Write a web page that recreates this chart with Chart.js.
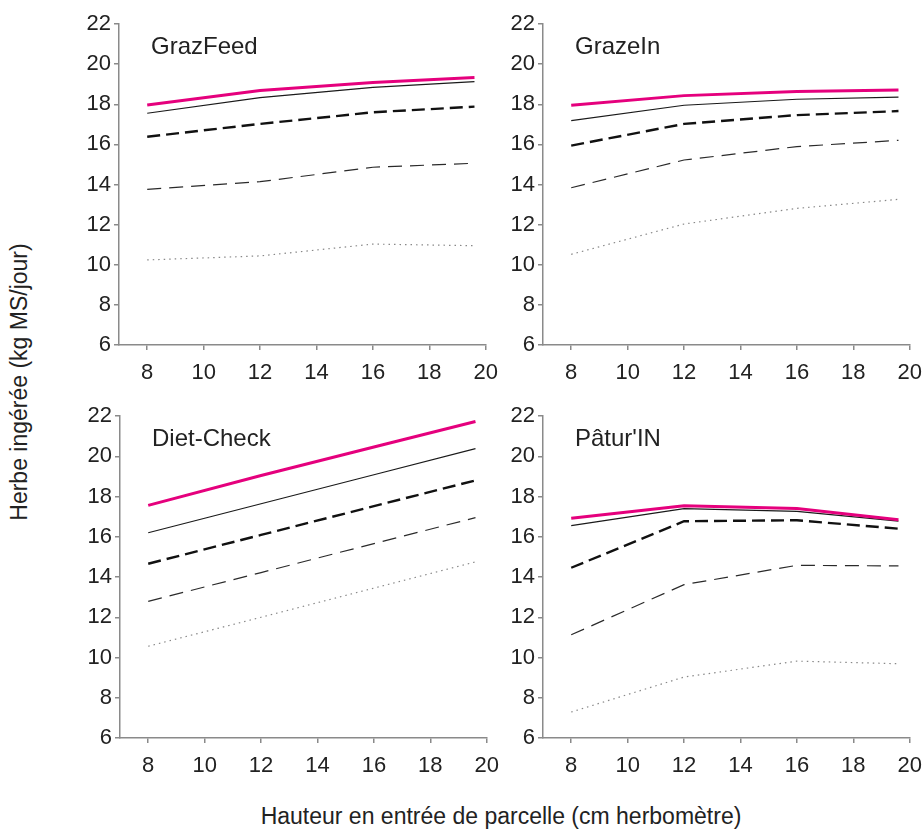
<!DOCTYPE html>
<html><head><meta charset="utf-8">
<script src="https://cdn.jsdelivr.net/npm/chart.js@4/dist/chart.umd.min.js"></script>
<style>
html,body{margin:0;padding:0;background:#fff;overflow:hidden;width:923px;height:830px;position:relative;}
canvas{position:absolute;}
.axt{position:absolute;font-family:"Liberation Sans",Arial,sans-serif;font-size:23px;line-height:23px;color:#222;white-space:nowrap;}
#xt{left:501px;top:805px;transform:translateX(-50%);}
#yt{left:19px;top:382px;transform:translate(-50%,-50%) rotate(-90deg);}
</style></head><body>
<div id="xt" class="axt">Hauteur en entrée de parcelle (cm herbomètre)</div>
<div id="yt" class="axt">Herbe ingérée (kg MS/jour)</div>
<canvas id="c0"></canvas>
<canvas id="c1"></canvas>
<canvas id="c2"></canvas>
<canvas id="c3"></canvas>
<script>
// ---- data ----
const xValues = [8, 12, 16, 19.6];
const xTicks = [8, 10, 12, 14, 16, 18, 20];
const yTicks = [6, 8, 10, 12, 14, 16, 18, 20, 22];
const panelTitles = ['GrazFeed', 'GrazeIn', 'Diet-Check', "Pâtur'IN"];

const grazFeedMagenta   = [17.96, 18.68, 19.09, 19.33];
const grazFeedSolid     = [17.55, 18.33, 18.84, 19.13];
const grazFeedThickDash = [16.38, 17.02, 17.60, 17.88];
const grazFeedThinDash  = [13.76, 14.14, 14.86, 15.06];
const grazFeedDotted    = [10.24, 10.44, 11.03, 10.95];

const grazeInMagenta   = [17.95, 18.43, 18.63, 18.71];
const grazeInSolid     = [17.18, 17.95, 18.25, 18.36];
const grazeInThickDash = [15.94, 17.02, 17.46, 17.66];
const grazeInThinDash  = [13.84, 15.22, 15.89, 16.20];
const grazeInDotted    = [10.52, 12.03, 12.81, 13.26];

const dietCheckMagenta   = [17.56, 19.04, 20.46, 21.73];
const dietCheckSolid     = [16.20, 17.64, 19.08, 20.38];
const dietCheckThickDash = [14.66, 16.09, 17.52, 18.80];
const dietCheckThinDash  = [12.79, 14.22, 15.66, 16.95];
const dietCheckDotted    = [10.56, 12.00, 13.45, 14.75];

const paturInMagenta   = [16.92, 17.54, 17.40, 16.85];
const paturInSolid     = [16.55, 17.40, 17.26, 16.78];
const paturInThickDash = [14.46, 16.77, 16.82, 16.40];
const paturInThinDash  = [11.13, 13.62, 14.58, 14.55];
const paturInDotted    = [7.29, 9.03, 9.82, 9.69];

// ---- styles ----
const FONT = '"Liberation Sans", Arial, sans-serif';
const AXIS = '#8a8a8a';
const seriesStyles = [
  {borderColor:'#e5007d', borderWidth:3, borderDash:[]},
  {borderColor:'#1a1a1a', borderWidth:1.2, borderDash:[]},
  {borderColor:'#111111', borderWidth:2.4, borderDash:[13,6]},
  {borderColor:'#2a2a2a', borderWidth:1.2, borderDash:[14,8]},
  {borderColor:'#888888', borderWidth:1.2, borderDash:[1.5,4]}
];

const panels = [
  {id:'c0', title:panelTitles[0], series:[grazFeedMagenta, grazFeedSolid, grazFeedThickDash, grazFeedThinDash, grazFeedDotted], l:119, r:488, t:24, b:345},
  {id:'c1', title:panelTitles[1], series:[grazeInMagenta, grazeInSolid, grazeInThickDash, grazeInThinDash, grazeInDotted], l:543, r:912, t:24, b:345},
  {id:'c2', title:panelTitles[2], series:[dietCheckMagenta, dietCheckSolid, dietCheckThickDash, dietCheckThinDash, dietCheckDotted], l:120, r:489, t:416, b:738},
  {id:'c3', title:panelTitles[3], series:[paturInMagenta, paturInSolid, paturInThickDash, paturInThinDash, paturInDotted], l:543, r:912, t:416, b:738}
];

const PAD_L = 60, PAD_T = 24, PAD_R = 20, PAD_B = 45;

const titlePlugin = {
  id: 'ptitle',
  afterDraw(chart, args, opts) {
    const {ctx, chartArea} = chart;
    ctx.save();
    ctx.font = '24px ' + FONT;
    ctx.fillStyle = '#222';
    ctx.textBaseline = 'alphabetic';
    ctx.textAlign = 'left';
    ctx.fillText(opts.text, chartArea.left + 32, chartArea.top + 30);
    ctx.restore();
  }
};

panels.forEach(p => {
  const cv = document.getElementById(p.id);
  const w = (p.r - p.l) + PAD_L + PAD_R;
  const h = (p.b - p.t) + PAD_T + PAD_B;
  cv.width = w; cv.height = h;
  cv.style.width = w + 'px'; cv.style.height = h + 'px';
  cv.style.left = (p.l - PAD_L) + 'px';
  cv.style.top = (p.t - PAD_T) + 'px';
  new Chart(cv, {
    type: 'line',
    data: {
      datasets: p.series.map((vals, i) => Object.assign({
        data: xValues.map((x, k) => ({x: x, y: vals[k]})),
        fill: false, pointRadius: 0, tension: 0
      }, seriesStyles[i]))
    },
    options: {
      responsive: false, animation: false, devicePixelRatio: 1,
      layout: {padding: {top: PAD_T, right: PAD_R, left: 0, bottom: 0}},
      plugins: {legend: {display: false}, tooltip: {enabled: false}, ptitle: {text: p.title}},
      scales: {
        x: {
          type: 'linear', min: 7, max: 20,
          afterBuildTicks: s => { s.ticks = xTicks.map(v => ({value: v})); },
          afterFit: s => { s.height = PAD_B; },
          grid: {drawOnChartArea: false, drawTicks: true, tickLength: 5, color: AXIS, lineWidth: 1.5},
          border: {display: true, color: AXIS, width: 1.5},
          ticks: {font: {family: FONT, size: 22}, color: '#222', padding: 10, maxRotation: 0, autoSkip: false}
        },
        y: {
          type: 'linear', min: 6, max: 22,
          afterBuildTicks: s => { s.ticks = yTicks.map(v => ({value: v})); },
          afterFit: s => { s.width = PAD_L; },
          grid: {drawOnChartArea: false, drawTicks: true, tickLength: 5, color: AXIS, lineWidth: 1.5},
          border: {display: true, color: AXIS, width: 1.5},
          ticks: {font: {family: FONT, size: 22}, color: '#222', padding: 3}
        }
      }
    },
    plugins: [titlePlugin]
  });
});
</script>
</body></html>
